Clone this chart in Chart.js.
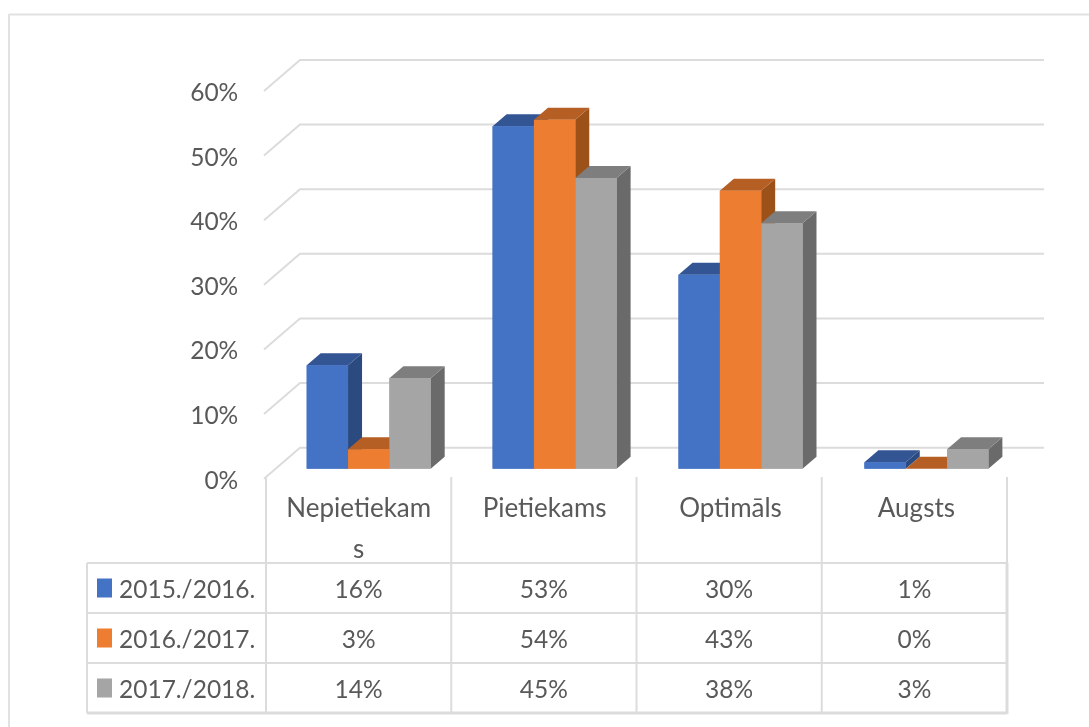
<!DOCTYPE html>
<html><head><meta charset="utf-8">
<style>html,body{margin:0;padding:0;background:#fff}canvas{display:block}</style>
<script src="https://cdn.jsdelivr.net/npm/chart.js@4/dist/chart.umd.min.js"></script>
</head><body><canvas id="c" width="1089" height="727"></canvas>
<script>
const categories = ["Nepietiekams", "Pietiekams", "Optimāls", "Augsts"];
const seriesNames = ["2015./2016.", "2016./2017.", "2017./2018."];
const values2015 = [16, 53, 30, 1];
const values2016 = [3, 54, 43, 0];
const values2017 = [14, 45, 38, 3];
const frontColors = ["#4472C4", "#ED7D31", "#A5A5A5"];
const topColors = ["#335593", "#B55F24", "#7E7E7E"];
const sideColors = ["#2B4A80", "#9C5118", "#6A6A6A"];

const FONT = '24.5px Lato';
const TXT = '#595959';
const LINE = '#DCDCDC';
const DEPTH_X = 14, DEPTH_Y = 12;       // bar extrusion
const TABLE_LEFT = 266, TABLE_RIGHT = 1007;
const allValues = [values2015, values2016, values2017];

function seg(ctx, x1, y1, x2, y2) { ctx.beginPath(); ctx.moveTo(x1, y1); ctx.lineTo(x2, y2); ctx.stroke(); }
function poly(ctx, pts, fill) {
  ctx.fillStyle = fill; ctx.beginPath();
  pts.forEach((p, i) => i ? ctx.lineTo(p[0], p[1]) : ctx.moveTo(p[0], p[1]));
  ctx.closePath(); ctx.fill();
}

const backdrop = {
  id: 'backdrop',
  beforeDatasetsDraw(chart) {
    const { ctx, scales: { y } } = chart;
    const left = TABLE_LEFT, step = (TABLE_RIGHT - TABLE_LEFT) / categories.length;
    ctx.save();
    // outer frame
    ctx.strokeStyle = '#E2E2E2'; ctx.lineWidth = 2;
    seg(ctx, 9, 14.5, 1089, 14.5); seg(ctx, 9, 14, 9, 727);
    // back wall gridlines + side-wall diagonals
    ctx.strokeStyle = LINE; ctx.lineWidth = 2;
    y.ticks.forEach(t => {
      const p = y.getPixelForValue(t.value);
      ctx.beginPath(); ctx.moveTo(left - 2, p + 10); ctx.lineTo(left + 34, p - 21); ctx.lineTo(1044, p - 21); ctx.stroke();
    });
    // data table grid
    const rowTop = 563, rowH = 50, tblTop = 477, tblBottom = rowTop + rowH * 3;
    for (let i = 0; i <= 4; i++) {
      const cx = left + step * i;
      seg(ctx, cx, tblTop, cx, tblBottom);
    }
    seg(ctx, 87, rowTop, 87, tblBottom);
    for (let r = 0; r <= 3; r++) seg(ctx, 87, rowTop + r * rowH, left + step * 4, rowTop + r * rowH);
    ctx.lineWidth = 3;
    seg(ctx, left + step * 4, rowTop, left + step * 4, tblBottom + 1);
    seg(ctx, 87, tblBottom, left + step * 4, tblBottom);
    // table contents
    ctx.font = FONT; ctx.textBaseline = 'middle';
    seriesNames.forEach((name, r) => {
      const cy = rowTop + r * rowH + 25;
      ctx.fillStyle = frontColors[r]; ctx.fillRect(97, cy - 9.5, 15, 19);
      ctx.fillStyle = TXT; ctx.textAlign = 'left'; ctx.fillText(name, 119, cy + 2);
      ctx.textAlign = 'center';
      allValues[r].forEach((v, c) => ctx.fillText(v + '%', left + step * (c + 0.5), cy + 2));
    });
    ctx.restore();
  },
  afterDatasetsDraw(chart) {
    const { ctx } = chart;
    ctx.save();
    chart.data.datasets.forEach((ds, d) => {
      chart.getDatasetMeta(d).data.forEach(bar => {
        const p = bar.getProps(['x', 'y', 'base', 'width'], true);
        const l = p.x - p.width / 2, r = p.x + p.width / 2;
        poly(ctx, [[r, p.y], [r + DEPTH_X, p.y - DEPTH_Y], [r + DEPTH_X, p.base - DEPTH_Y], [r, p.base]], sideColors[d]);
        poly(ctx, [[l, p.y], [l + DEPTH_X, p.y - DEPTH_Y], [r + DEPTH_X, p.y - DEPTH_Y], [r, p.y]], topColors[d]);
        bar.draw(ctx);
      });
    });
    ctx.restore();
  }
};

new Chart(document.getElementById('c'), {
  type: 'bar',
  data: {
    labels: categories,
    datasets: seriesNames.map((n, i) => ({
      label: n, data: allValues[i], backgroundColor: frontColors[i], borderWidth: 0,
      categoryPercentage: 0.667, barPercentage: 1
    }))
  },
  options: {
    responsive: false, animation: false, devicePixelRatio: 1,
    layout: { padding: { left: 0, top: 81, right: 69.65, bottom: 0 } },
    plugins: { legend: { display: false }, title: { display: false }, tooltip: { enabled: false } },
    scales: {
      x: {
        afterFit(s) { s.height = 258.3; },
        grid: { display: false, drawTicks: false }, border: { display: false },
        ticks: {
          autoSkip: false, maxRotation: 0, minRotation: 0, padding: 20, labelOffset: -10,
          color: TXT, font: { family: 'Lato', size: 26, lineHeight: 1.55 },
          callback(v) { const s = this.getLabelForValue(v); return s.length > 11 ? [s.slice(0, 11), s.slice(11)] : s; }
        }
      },
      y: {
        min: 0, max: 60,
        afterFit(s) { s.width = 275.75; },
        grid: { display: false, drawTicks: false }, border: { display: false },
        ticks: {
          stepSize: 10, padding: 37.5, labelOffset: 12, color: TXT,
          font: { family: 'Lato', size: 24.5 },
          callback: v => v + '%'
        }
      }
    }
  },
  plugins: [backdrop]
});
</script></body></html>
